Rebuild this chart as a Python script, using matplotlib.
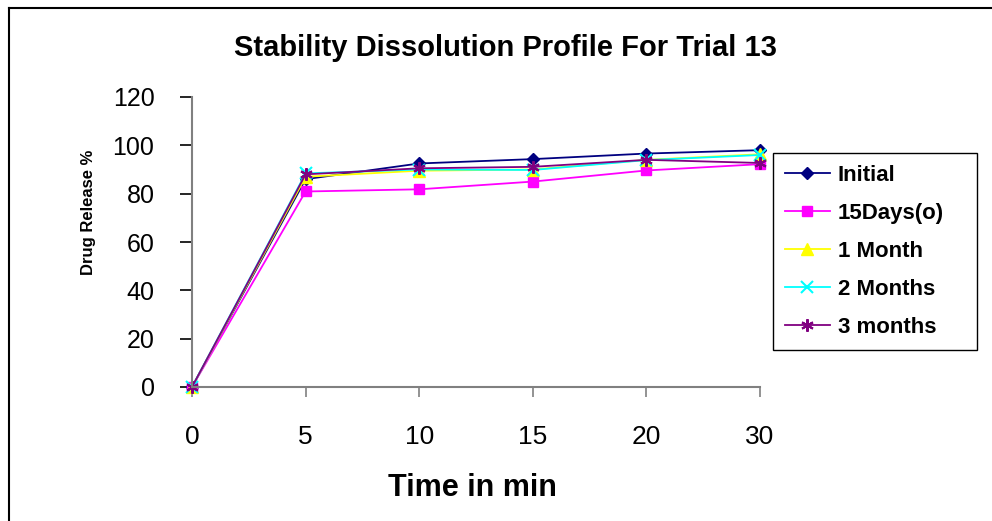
import matplotlib
matplotlib.use("Agg")
import matplotlib.pyplot as plt
from matplotlib.lines import Line2D

# ---- data ----
time_labels = ["0", "5", "10", "15", "20", "30"]
initial = [0, 86.0, 92.5, 94.3, 96.6, 98.0]
days15 = [0, 80.9, 81.8, 85.0, 89.6, 92.2]
month1 = [0, 87.0, 89.5, 90.0, 94.0, 96.3]
months2 = [0, 88.4, 90.0, 89.8, 93.9, 96.0]
months3 = [0, 88.0, 90.5, 91.1, 94.0, 92.7]
series_names = ["Initial", "15Days(o)", "1 Month", "2 Months", "3 months"]

plt.rcParams['font.family'] = ['Liberation Sans', 'DejaVu Sans']

W, H = 992, 521
fig = plt.figure(figsize=(W / 100, H / 100), dpi=100)
ax = fig.add_axes([192 / W, 1 - 387 / H, (760 - 192) / W, (387 - 97) / H])

x = list(range(len(time_labels)))
styles = [
    dict(color="#000080", marker="D", ms=6, mfc="#000080", mec="#000080"),
    dict(color="#FF00FF", marker="s", ms=7, mfc="#FF00FF", mec="#FF00FF"),
    dict(color="#FFFF00", marker="^", ms=8, mfc="#FFFF00", mec="#FFFF00"),
    dict(color="#00FFFF", marker="x", ms=8, mew=1.5, mec="#00FFFF"),
    dict(color="#800080", marker=(6, 2, 0), ms=9, mew=1.5, mec="#800080"),
]
for vals, name, st in zip([initial, days15, month1, months2, months3], series_names, styles):
    ax.plot(x, vals, lw=1.3, label=name, clip_on=False, **st)

ax.set_xlim(0, len(time_labels) - 1)
ax.set_ylim(0, 120)
ax.set_xticks(x)
ax.set_xticklabels(time_labels)
ax.set_yticks(range(0, 121, 20))
for s in ["top", "right"]:
    ax.spines[s].set_visible(False)
for s in ["left", "bottom"]:
    ax.spines[s].set_color("#808080")
    ax.spines[s].set_linewidth(1.5)
ax.tick_params(axis="y", length=9, width=1.2, color="#000000", labelsize=18, pad=18)
ax.tick_params(axis="x", length=7, width=1.2, color="#808080", labelsize=19, pad=20)

fig.text(505 / W, 1 - 48 / H, "Stability Dissolution Profile For Trial 13",
         ha="center", va="center", fontsize=21, fontweight="bold")
fig.text(472 / W, 1 - 488 / H, "Time in min", ha="center", va="center",
         fontsize=22, fontweight="bold")
fig.text(88 / W, 1 - 212 / H, "Drug Release %", ha="center", va="center",
         rotation=90, fontsize=12, fontweight="bold")

leg = ax.legend(loc="upper left",
                bbox_to_anchor=(773 / W, 1 - 343 / H, 204 / W, 190 / H),
                bbox_transform=fig.transFigure, mode="expand", frameon=True,
                fancybox=False, edgecolor="#000000", framealpha=1,
                borderpad=0.55, borderaxespad=0, labelspacing=0.76,
                handlelength=2.0, handletextpad=0.36,
                prop=dict(size=16, weight="bold"))
leg.get_frame().set_linewidth(1.0)

# outer chart border (top and left only visible)
fig.add_artist(Line2D([9 / W, 9 / W], [0, 1 - 8 / H], transform=fig.transFigure,
                      color="#000000", lw=1.5))
fig.add_artist(Line2D([9 / W, 1], [1 - 8 / H, 1 - 8 / H], transform=fig.transFigure,
                      color="#000000", lw=1.5))

fig.savefig("out.png", dpi=100)
